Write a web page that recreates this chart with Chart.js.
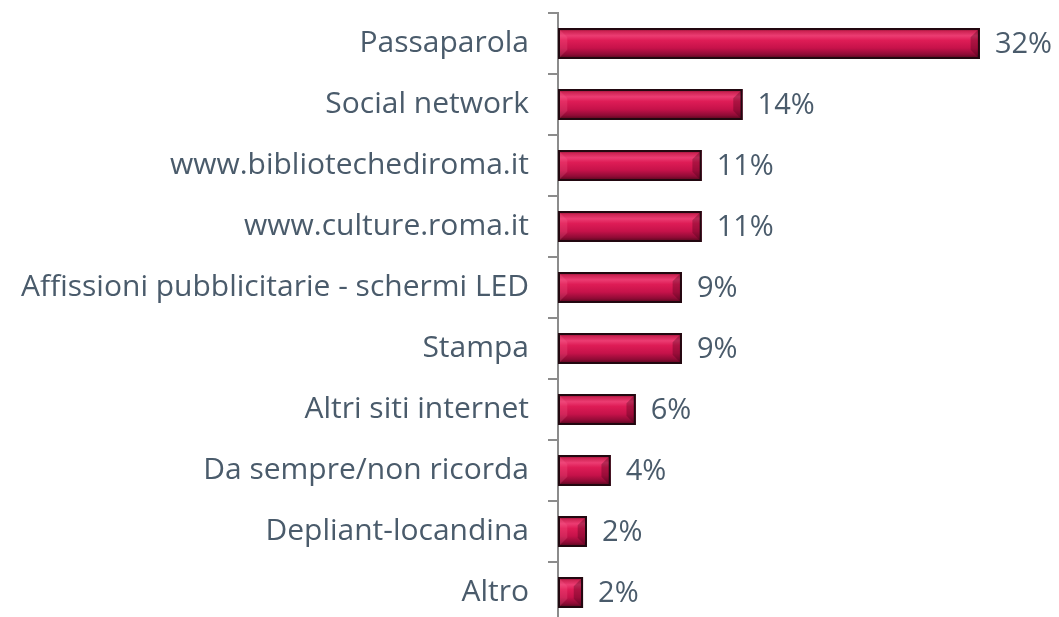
<!DOCTYPE html>
<html>
<head>
<meta charset="utf-8">
<script src="https://cdn.jsdelivr.net/npm/chart.js@4.4.1/dist/chart.umd.min.js"></script>
<style>
  html, body { margin: 0; padding: 0; background: #ffffff; overflow: hidden; height: 617px; }
  #wrap { width: 1059px; height: 640px; position: relative; }
</style>
</head>
<body>
<div id="wrap"><canvas id="myChart"></canvas></div>
<script>
// Categories and values (percent)
const categories = [
    'Passaparola',
    'Social network',
    'www.bibliotechediroma.it',
    'www.culture.roma.it',
    'Affissioni pubblicitarie - schermi LED',
    'Stampa',
    'Altri siti internet',
    'Da sempre/non ricorda',
    'Depliant-locandina',
    'Altro'
];
const values = [32.0, 14.0, 10.9, 10.9, 9.4, 9.4, 5.9, 4.0, 2.2, 1.9];
const valueLabels = ['32%', '14%', '11%', '11%', '9%', '9%', '6%', '4%', '2%', '2%'];

const textColor = '#4a5b6b';
const labelFont = '"Open Sans", "Liberation Sans", Arial, sans-serif';

// Beveled look for the bars, drawn on top of the library's own bar elements
const bevelBars = {
    id: 'bevelBars',
    afterDatasetsDraw(chart) {
        const ctx = chart.ctx;
        const meta = chart.getDatasetMeta(0);
        meta.data.forEach(function (bar) {
            const p = bar.getProps(['x', 'y', 'base', 'height'], true);
            const x0 = Math.min(p.base, p.x), x1 = Math.max(p.base, p.x);
            const y0 = p.y - p.height / 2, y1 = p.y + p.height / 2;
            const h = y1 - y0;
            const b = Math.min(h * 0.3, (x1 - x0) / 2);

            ctx.save();
            const g = ctx.createLinearGradient(0, y0, 0, y1);
            g.addColorStop(0, '#5e0a22');
            g.addColorStop(0.1, '#cc2252');
            g.addColorStop(0.25, '#ec3c72');
            g.addColorStop(0.4, '#de1c56');
            g.addColorStop(0.65, '#c6124a');
            g.addColorStop(0.85, '#900b36');
            g.addColorStop(1, '#4a0718');
            ctx.fillStyle = g;
            ctx.fillRect(x0, y0, x1 - x0, h);

            // left light wedge
            ctx.beginPath();
            ctx.moveTo(x0, y0);
            ctx.lineTo(x0 + b, y0 + b);
            ctx.lineTo(x0 + b, y1 - b);
            ctx.lineTo(x0, y1);
            ctx.closePath();
            ctx.fillStyle = 'rgba(255,110,150,0.22)';
            ctx.fill();

            // right dark wedge
            ctx.beginPath();
            ctx.moveTo(x1, y0);
            ctx.lineTo(x1 - b, y0 + b);
            ctx.lineTo(x1 - b, y1 - b);
            ctx.lineTo(x1, y1);
            ctx.closePath();
            ctx.fillStyle = 'rgba(60,0,20,0.3)';
            ctx.fill();

            ctx.lineWidth = 2;
            ctx.strokeStyle = '#220810';
            ctx.strokeRect(x0 + 1, y0 + 1, x1 - x0 - 2, h - 2);
            ctx.restore();
        });
    }
};

// Value labels at the end of each bar
const valueLabelPlugin = {
    id: 'valueLabels',
    afterDatasetsDraw(chart) {
        const ctx = chart.ctx;
        const meta = chart.getDatasetMeta(0);
        ctx.save();
        ctx.font = '29px ' + labelFont;
        ctx.fillStyle = textColor;
        ctx.textAlign = 'left';
        ctx.textBaseline = 'middle';
        meta.data.forEach(function (bar, i) {
            ctx.fillText(valueLabels[i], bar.x + 15, bar.y + 1);
        });
        ctx.restore();
    }
};

document.addEventListener('DOMContentLoaded', function () {
    const ctx = document.getElementById('myChart').getContext('2d');

    new Chart(ctx, {
        type: 'bar',
        data: {
            labels: categories,
            datasets: [{
                data: values,
                backgroundColor: 'rgba(0,0,0,0)',
                borderWidth: 0,
                barThickness: 31
            }]
        },
        options: {
            indexAxis: 'y',
            responsive: true,
            maintainAspectRatio: false,
            animation: false,
            layout: {
                padding: { top: 13, bottom: 17, left: 0, right: 0 }
            },
            scales: {
                x: {
                    display: false,
                    min: 0,
                    max: 38
                },
                y: {
                    afterFit: function (scale) {
                        scale.width = 558;
                        scale.paddingTop = 0;
                        scale.paddingBottom = 0;
                    },
                    grid: {
                        drawOnChartArea: false,
                        drawTicks: true,
                        tickLength: 10,
                        color: '#8c8c8c',
                        lineWidth: 2,
                        offset: true
                    },
                    border: {
                        display: true,
                        color: '#8c8c8c',
                        width: 2
                    },
                    ticks: {
                        padding: 19,
                        color: textColor,
                        font: { family: labelFont, size: 30 }
                    }
                }
            },
            plugins: {
                legend: { display: false },
                tooltip: { enabled: false }
            }
        },
        plugins: [bevelBars, valueLabelPlugin]
    });
});
</script>
</body>
</html>
